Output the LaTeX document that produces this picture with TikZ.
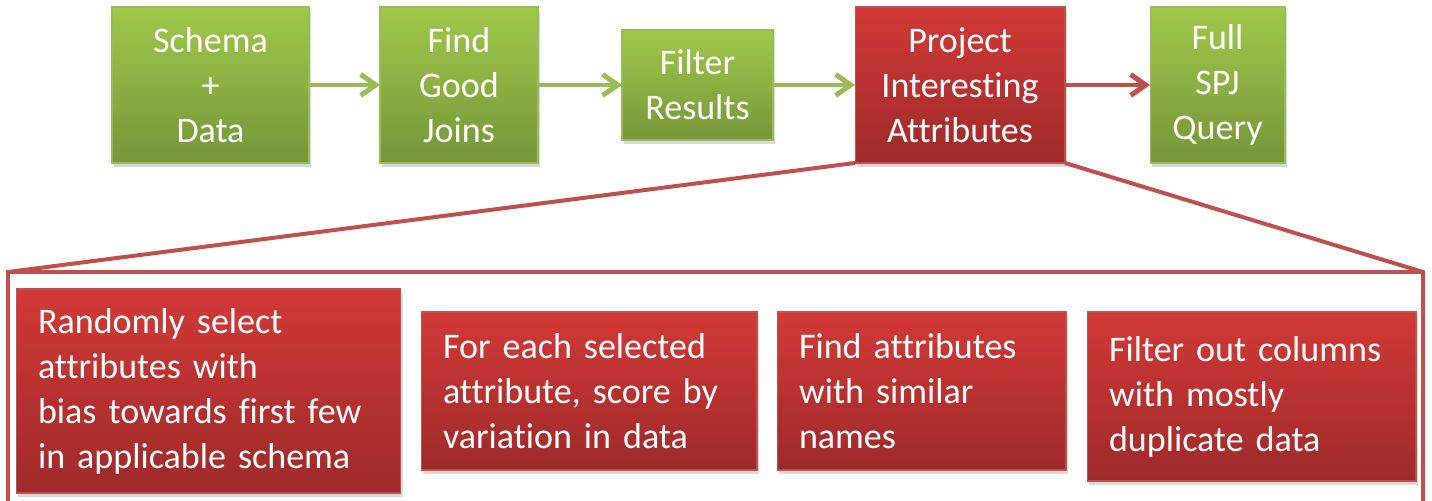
\documentclass[tikz,border=0pt]{standalone}
\usepackage{fontspec}
\setmainfont{Carlito}[Ligatures=NoCommon]
\usetikzlibrary{arrows.meta,shadows}

\definecolor{olivetop}{RGB}{160,200,74}
\definecolor{olivebot}{RGB}{118,150,58}
\definecolor{olive}{RGB}{155,187,89}
\definecolor{bricktop}{RGB}{210,58,55}
\definecolor{brickbot}{RGB}{158,42,42}
\definecolor{brick}{RGB}{192,80,77}

\begin{document}
\begin{tikzpicture}[x=0.02cm,y=-0.02cm,
  box/.style={rectangle,draw,line width=0.6pt,text=white,outer sep=0pt,font=\fontsize{20.5}{25.6}\selectfont,drop shadow={shadow xshift=0.04cm,shadow yshift=-0.08cm,opacity=0.3}},
  green box/.style={box,draw=olive,top color=olivetop,bottom color=olivebot,align=center,inner sep=0pt},
  red box/.style={box,draw=brick,top color=bricktop,bottom color=brickbot,align=center,inner sep=0pt},
  sub box/.style={box,draw=brick,top color=bricktop,bottom color=brickbot,align=left,inner xsep=0.44cm,inner ysep=0pt},
  flow/.style={line width=0.1cm,-{Straight Barb[length=0.3cm,width=0.42cm]}},
  frame line/.style={draw=brick,line width=0.08cm,line join=miter}]
  \useasboundingbox (0,0) rectangle (1432,500);

  % pipeline
  \node[green box,minimum width=3.94cm,minimum height=3.12cm] (schema) at (210.5,85) {Schema\\+\\Data};
  \node[green box,minimum width=3.16cm,minimum height=3.12cm] (joins) at (459,85) {Find\\Good\\Joins};
  \node[green box,minimum width=3.02cm,minimum height=2.2cm] (filter) at (697.5,85) {Filter\\Results};
  \node[red box,minimum width=4.2cm,minimum height=3.12cm] (project) at (960,85) {Project\\Interesting\\Attributes};
  \node[green box,minimum width=2.7cm,minimum height=3.12cm] (query) at (1217.5,85) {Full\\SPJ\\Query};

\path[flow,color=olive]
  (schema) edge (joins)
  (joins) edge (filter)
  (filter) edge (project);
\path[flow,color=brick]
  (project) edge (query);

  % zoom frame
  \coordinate (fl) at (8,272);
  \coordinate (fr) at (1423,272);
  \coordinate (flb) at (8,520);
  \coordinate (frb) at (1423,520);
  \draw[frame line] (project.south west) -- (fl) -- (flb);
  \draw[frame line] (project.south east) -- (fr) -- (frb);
  \draw[frame line] (fl) -- (fr);

  % steps of the red box
  \node[sub box,text width=6.82cm,minimum height=4.08cm] (pick) at (208.5,391) {Randomly select\\attributes with\\bias towards first few\\in applicable schema};
  \node[sub box,text width=5.84cm,minimum height=3.16cm] (score) at (589,391) {For each selected\\attribute, score by\\variation in data};
  \node[sub box,text width=4.9cm,minimum height=3.16cm] (similar) at (921.5,391) {Find attributes\\with similar\\names};
  \node[sub box,text width=5.7cm,minimum height=3.38cm] (dups) at (1251.5,396.5) {Filter out columns\\with mostly\\duplicate data};
\end{tikzpicture}
\end{document}
